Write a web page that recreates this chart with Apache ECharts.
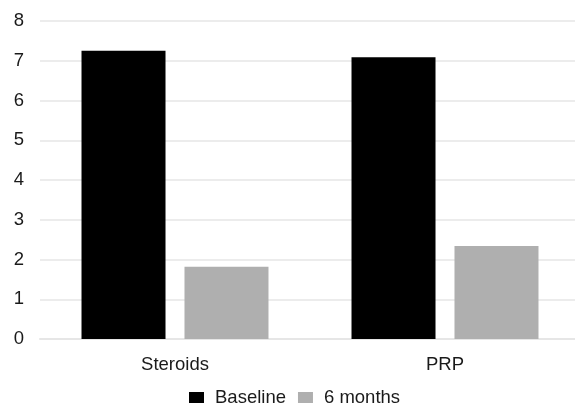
<!DOCTYPE html>
<html>
<head>
<meta charset="utf-8">
<script src="https://cdn.jsdelivr.net/npm/echarts@6/dist/echarts.min.js"></script>
<style>
html,body{margin:0;padding:0;background:#fff;overflow:hidden;}
#chart{width:580px;height:406px;}
</style>
</head>
<body>
<div id="chart"></div>
<script>
var categories = ["Steroids", "PRP"];
var seriesNames = ["Baseline", "6 months"];
var baselineValues = [7.25, 7.09];
var sixMonthValues = [1.82, 2.34];
var yTicks = [0, 1, 2, 3, 4, 5, 6, 7, 8];

var chart = echarts.init(document.getElementById('chart'), null, {renderer: 'canvas'});
var font = '"Liberation Sans", Arial, sans-serif';
var textColor = '#1a1a1a';
chart.setOption({
  animation: false,
  backgroundColor: '#ffffff',
  grid: {left: 40, top: 21, right: 0, bottom: 67, containLabel: false},
  legend: {
    data: seriesNames,
    left: 189, top: 388, padding: 0,
    itemWidth: 15, itemHeight: 11, itemGap: 12,
    icon: 'rect',
    textStyle: {fontFamily: font, fontSize: 18.5, color: textColor, padding: [0, 0, 0, 6]}
  },
  xAxis: {
    type: 'category',
    data: categories,
    axisLine: {show: true, lineStyle: {color: '#e6e6e6', width: 2}},
    axisTick: {show: false},
    axisLabel: {fontFamily: font, fontSize: 18.5, color: textColor, margin: 16}
  },
  yAxis: {
    type: 'value',
    min: yTicks[0], max: yTicks[yTicks.length - 1], interval: 1,
    axisLine: {show: false},
    axisTick: {show: false},
    splitLine: {lineStyle: {color: '#ececec', width: 2}},
    axisLabel: {fontFamily: font, fontSize: 18.5, color: textColor, margin: 16}
  },
  series: [
    {name: seriesNames[0], type: 'bar', data: baselineValues, barWidth: 84, barGap: '22.6%', itemStyle: {color: '#000000'}},
    {name: seriesNames[1], type: 'bar', data: sixMonthValues, barWidth: 84, barGap: '22.6%', itemStyle: {color: '#afafaf'}}
  ]
});
</script>
</body>
</html>
